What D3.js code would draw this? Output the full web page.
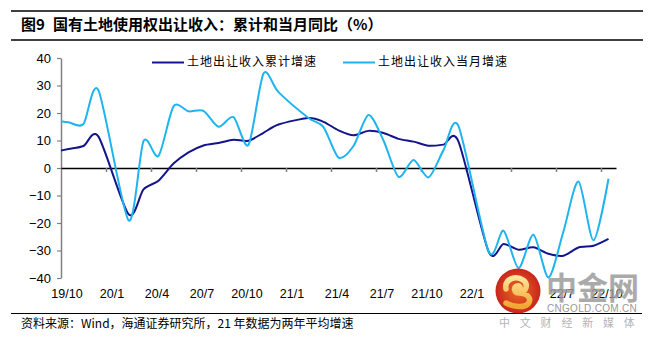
<!DOCTYPE html>
<html>
<head>
<meta charset="utf-8">
<script src="https://cdn.jsdelivr.net/npm/d3@7"></script>
<style>
  body { margin: 0; background: #fff; }
  svg { display: block; }
</style>
</head>
<body>
<div id="chart"></div>
<script>
// monthly observations (Jan is folded into Feb, so no Jan points)
const months = ["19/9", "19/10", "19/11", "19/12",
  "20/2", "20/3", "20/4", "20/5", "20/6", "20/7", "20/8", "20/9", "20/10", "20/11", "20/12",
  "21/2", "21/3", "21/4", "21/5", "21/6", "21/7", "21/8", "21/9", "21/10", "21/11", "21/12",
  "22/2", "22/3", "22/4", "22/5", "22/6", "22/7", "22/8", "22/9", "22/10"];
const cumulative = [5.8, 6.9, 8.0, 11.4,
  -16.8, -7.8, -4.6, 1.6, 5.7, 8.2, 9.1, 10.3, 9.9, 12.8, 15.8,
  18.2, 16.8, 13.7, 11.9, 13.5, 12.7, 10.6, 9.6, 8.1, 8.5, 9.6,
  -30.3, -27.6, -29.7, -28.8, -31.2, -31.9, -28.9, -28.3, -25.8];
const monthly = [17.5, 16.6, 16.0, 28.2,
  -19.0, 9.8, 4.4, 22.4, 20.6, 20.8, 15.0, 18.5, 8.4, 34.4, 27.6,
  18.2, 14.9, 3.8, 8.0, 19.3, 10.0, -3.2, 2.9, -3.4, 6.5, 15.2,
  -30.3, -22.8, -36.4, -24.3, -39.8, -23.0, -4.9, -26.3, -3.9];
const xLabels = ["19/10", "20/1", "20/4", "20/7", "20/10", "21/1", "21/4", "21/7", "21/10", "22/1", "22/4", "22/7", "22/10"];
const yTicks = [40, 30, 20, 10, 0, -10, -20, -30, -40];
const seriesNames = ["土地出让收入累计增速", "土地出让收入当月增速"];
const seriesColors = ["#14148c", "#1eb4ee"];

const width = 652, height = 340;
const plotLeft = 61, plotRight = 616, plotTop = 58, plotBottom = 278;

// month index counted from 19/10
function monthIndex(s) {
  const [yy, mm] = s.split("/").map(Number);
  return (yy - 19) * 12 + (mm - 10);
}

const x = d3.scaleLinear().domain([0, 37]).range([plotLeft, plotRight]);
const y = d3.scaleLinear().domain([-40, 40]).range([plotBottom, plotTop]);

const svg = d3.select("#chart").append("svg")
  .attr("width", width).attr("height", height);

svg.append("rect").attr("width", width).attr("height", height).attr("fill", "#fff");

// title and frame rules
svg.append("line").attr("x1", 11).attr("x2", 643).attr("y1", 11).attr("y2", 11)
  .attr("stroke", "#000").attr("stroke-width", 1.5);
svg.append("line").attr("x1", 11).attr("x2", 643).attr("y1", 40).attr("y2", 40)
  .attr("stroke", "#000").attr("stroke-width", 1.5);
svg.append("line").attr("x1", 11).attr("x2", 642).attr("y1", 313.5).attr("y2", 313.5)
  .attr("stroke", "#000").attr("stroke-width", 1.2);

const cjk = "'Noto Sans CJK SC', sans-serif";
svg.append("text").attr("x", 21).attr("y", 30)
  .style("font-family", cjk).style("font-size", "15px").style("font-weight", "bold")
  .text("图9");
svg.append("text").attr("x", 53).attr("y", 30)
  .style("font-family", cjk).style("font-size", "15px").style("font-weight", "bold")
  .text("国有土地使用权出让收入：累计和当月同比（%）");
svg.append("text").attr("x", 21).attr("y", 328)
  .style("font-family", cjk).style("font-size", "12px")
  .text("资料来源：Wind，海通证券研究所，21 年数据为两年平均增速");

// y axis
const yAxis = svg.append("g")
  .attr("transform", `translate(${plotLeft},0)`)
  .call(d3.axisLeft(y).tickValues(yTicks).tickSize(4).tickSizeOuter(0).tickPadding(6));
yAxis.select(".domain").attr("stroke", "#808080").attr("stroke-width", 1.5);
yAxis.selectAll(".tick line").attr("stroke", "#808080").attr("stroke-width", 1.2);
yAxis.selectAll(".tick text")
  .style("font-family", "'Liberation Sans', Arial, sans-serif").style("font-size", "13px").attr("fill", "#000");

// zero line with quarterly ticks
const xAxis = svg.append("g")
  .attr("transform", `translate(0,${y(0)})`)
  .call(d3.axisBottom(x).tickValues(d3.range(3, 37, 3)).tickSize(4).tickSizeOuter(0).tickFormat(""));
xAxis.select(".domain").attr("stroke", "#000").attr("stroke-width", 1.3);
xAxis.selectAll(".tick line").attr("stroke", "#808080").attr("stroke-width", 1.5);

svg.append("g").selectAll("text")
  .data(xLabels)
  .enter()
  .append("text")
  .attr("x", d => x(monthIndex(d)) + 6)
  .attr("y", 298)
  .attr("text-anchor", "middle")
  .style("font-family", "'Liberation Sans', Arial, sans-serif")
  .style("font-size", "12.5px")
  .text(d => d);

// lines
svg.append("clipPath").attr("id", "plot-clip")
  .append("rect").attr("x", plotLeft).attr("y", 40).attr("width", plotRight - plotLeft).attr("height", 260);

const line = d3.line()
  .x(d => x(monthIndex(d.m) + 0.5))
  .y(d => y(d.v))
  .curve(d3.curveCardinal.tension(0.2));

[cumulative, monthly].forEach((values, i) => {
  svg.append("path")
    .datum(months.map((m, j) => ({ m: m, v: values[j] })))
    .attr("clip-path", "url(#plot-clip)")
    .attr("fill", "none")
    .attr("stroke", seriesColors[i])
    .attr("stroke-width", 2)
    .attr("d", line);
});

// legend
const legendX = [152, 343];
seriesNames.forEach((name, i) => {
  svg.append("line")
    .attr("x1", legendX[i]).attr("x2", legendX[i] + 32)
    .attr("y1", 62.5).attr("y2", 62.5)
    .attr("stroke", seriesColors[i]).attr("stroke-width", 2);
  svg.append("text")
    .attr("x", legendX[i] + 35).attr("y", 66)
    .style("font-family", cjk).style("font-size", "12px").style("letter-spacing", "1px")
    .text(name);
});

// watermark
const defs = svg.append("defs");
const grad = defs.append("radialGradient").attr("id", "logo-grad");
grad.append("stop").attr("offset", "0%").attr("stop-color", "#ec6a22");
grad.append("stop").attr("offset", "100%").attr("stop-color", "#c8261c");
const swirlGrad = defs.append("linearGradient").attr("id", "swirl-grad")
  .attr("x1", "0").attr("y1", "0").attr("x2", "0").attr("y2", "1");
swirlGrad.append("stop").attr("offset", "0%").attr("stop-color", "#fde59a");
swirlGrad.append("stop").attr("offset", "100%").attr("stop-color", "#f3a531");

const logo = svg.append("g").attr("transform", "translate(518,291)");
logo.append("circle").attr("r", 22.5).attr("fill", "url(#logo-grad)");
logo.append("path")
  .attr("d", "M-12,-2 C-14,-12 -2,-16 5,-11 C11,-7 8,2 1,2 C-4,2 -5,-4 -1,-5 C2,-6 3,-3 1,-2 M1,2 C10,2 14,8 10,13 C6,17 -4,16 -12,12")
  .attr("fill", "none").attr("stroke", "url(#swirl-grad)").attr("stroke-width", 5.5)
  .attr("stroke-linecap", "round");

svg.append("text").attr("x", 546).attr("y", 299)
  .style("font-family", cjk).style("font-size", "31px").style("font-weight", "bold")
  .attr("fill", "#9c9c9c").attr("opacity", 0.85)
  .text("中金网");
svg.append("text").attr("x", 547).attr("y", 311.5)
  .style("font-family", "'Liberation Sans', Arial, sans-serif").style("font-size", "10px")
  .attr("fill", "#999").style("letter-spacing", "0.3px")
  .text("CNGOLD.COM.CN");
svg.append("text").attr("x", 499).attr("y", 327)
  .style("font-family", cjk).style("font-size", "11px")
  .attr("fill", "#b4b4b4").style("letter-spacing", "9.8px")
  .text("中文财经新媒体");
</script>
</body>
</html>
